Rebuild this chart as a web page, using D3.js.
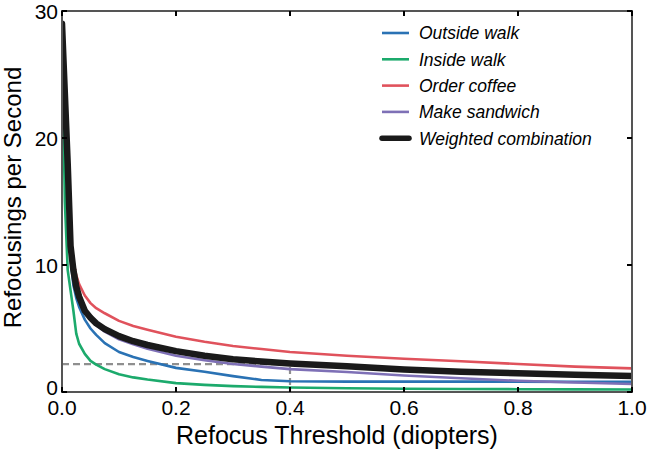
<!DOCTYPE html>
<html>
<head>
<meta charset="utf-8">
<script src="https://cdn.jsdelivr.net/npm/d3@7"></script>
<style>
  body { margin: 0; background: #fff; }
  svg { display: block; font-family: "Liberation Sans", Arial, Helvetica, sans-serif; }
</style>
</head>
<body>
<svg id="chart" width="647" height="451"></svg>
<script>
// ---- data ----
const thresholds = [0, 0.005, 0.01, 0.015, 0.02, 0.025, 0.03, 0.04, 0.05, 0.06, 0.075, 0.1, 0.125, 0.15, 0.2, 0.25, 0.3, 0.35, 0.4, 0.5, 0.6, 0.7, 0.8, 0.9, 1.0];
const outsideWalk  = [28, 22, 16, 10.5, 8.4, 7.4, 6.7, 5.7, 5.0, 4.5, 3.85, 3.15, 2.75, 2.45, 1.9, 1.6, 1.25, 0.95, 0.85, 0.82, 0.82, 0.82, 0.82, 0.8, 0.8];
const insideWalk   = [28, 15, 9.6, 8.0, 6.4, 4.6, 3.8, 3.0, 2.45, 2.15, 1.8, 1.4, 1.15, 0.98, 0.7, 0.56, 0.46, 0.4, 0.35, 0.3, 0.26, 0.24, 0.22, 0.21, 0.2];
const orderCoffee  = [29, 23.5, 18, 12, 10.3, 9.2, 8.5, 7.6, 7.0, 6.6, 6.2, 5.6, 5.2, 4.9, 4.35, 3.95, 3.62, 3.38, 3.15, 2.85, 2.62, 2.42, 2.2, 2.0, 1.86];
const makeSandwich = [29, 23.5, 18, 11.5, 9.5, 8.2, 7.4, 6.3, 5.7, 5.25, 4.75, 4.15, 3.75, 3.4, 2.85, 2.5, 2.2, 2.0, 1.8, 1.58, 1.3, 1.08, 0.88, 0.75, 0.63];
const weighted     = [29, 23.5, 18, 11.5, 9.6, 8.3, 7.5, 6.4, 5.85, 5.4, 4.95, 4.4, 4.0, 3.7, 3.22, 2.85, 2.58, 2.4, 2.25, 2.02, 1.78, 1.6, 1.47, 1.36, 1.26];
const seriesNames  = ["Outside walk", "Inside walk", "Order coffee", "Make sandwich", "Weighted combination"];
const seriesColors = ["#2a72b4", "#1caa6c", "#e0525c", "#7e70b6", "#1a1a1a"];
const xTicks = [0, 0.2, 0.4, 0.6, 0.8, 1.0];
const yTicks = [0, 10, 20, 30];
const markerX = 0.4, markerY = 2.2;

// ---- layout ----
const W = 647, H = 451;
const m = { left: 62, right: 15, top: 11, bottom: 59 };
const iw = W - m.left - m.right, ih = H - m.top - m.bottom;
const svg = d3.select("#chart");
const x = d3.scaleLinear().domain([0, 1]).range([0, iw]);
const y = d3.scaleLinear().domain([0, 30]).range([ih, 0]);
const g = svg.append("g").attr("transform", `translate(${m.left},${m.top})`);

svg.append("defs").append("clipPath").attr("id", "clip")
  .append("rect").attr("x", 0).attr("y", -4).attr("width", iw).attr("height", ih + 4);

// dashed marker
g.append("path")
  .attr("d", `M${x(0)},${y(markerY)}H${x(markerX)}V${y(0)}`)
  .attr("fill", "none").attr("stroke", "#8f8f8f").attr("stroke-width", 2.2)
  .attr("stroke-dasharray", "7,4");

// lines
const allValues = [outsideWalk, insideWalk, orderCoffee, makeSandwich, weighted];
const line = d3.line().x((d, i) => x(thresholds[i])).y(d => y(d));
const lg = g.append("g").attr("clip-path", "url(#clip)");
allValues.forEach((vals, k) => {
  lg.append("path").datum(vals)
    .attr("d", line)
    .attr("fill", "none")
    .attr("stroke", seriesColors[k])
    .attr("stroke-width", k === 4 ? 6.5 : 2.6)
    .attr("stroke-linejoin", "round")
    .attr("stroke-linecap", "round");
});

// frame
g.append("rect").attr("x", 0).attr("y", 0).attr("width", iw).attr("height", ih)
  .attr("fill", "none").attr("stroke", "#555").attr("stroke-width", 2);

// ticks (inward on all sides)
const tl = 5;
xTicks.forEach(t => {
  g.append("line").attr("x1", x(t)).attr("x2", x(t)).attr("y1", ih).attr("y2", ih - tl)
    .attr("stroke", "#000").attr("stroke-width", 2);
  g.append("line").attr("x1", x(t)).attr("x2", x(t)).attr("y1", 0).attr("y2", tl)
    .attr("stroke", "#000").attr("stroke-width", 2);
  g.append("text").attr("x", x(t)).attr("y", ih + 23)
    .attr("text-anchor", "middle").attr("font-size", 21).attr("fill", "#000")
    .text(d3.format(".1f")(t));
});
yTicks.forEach(t => {
  g.append("line").attr("x1", 0).attr("x2", tl).attr("y1", y(t)).attr("y2", y(t))
    .attr("stroke", "#000").attr("stroke-width", 2);
  g.append("line").attr("x1", iw).attr("x2", iw - tl).attr("y1", y(t)).attr("y2", y(t))
    .attr("stroke", "#000").attr("stroke-width", 2);
  g.append("text").attr("x", -4).attr("y", y(t)).attr("dy", t === 0 ? "0.15em" : "0.36em")
    .attr("text-anchor", "end").attr("font-size", 21).attr("fill", "#000")
    .text(t);
});

// axis titles
svg.append("text").attr("x", m.left + iw / 2 - 10).attr("y", 444)
  .attr("text-anchor", "middle").attr("font-size", 25).attr("fill", "#000")
  .text("Refocus Threshold (diopters)");
svg.append("text")
  .attr("transform", `translate(21,${m.top + ih / 2 - 4}) rotate(-90)`)
  .attr("text-anchor", "middle").attr("font-size", 24).attr("fill", "#000")
  .text("Refocusings per Second");

// legend
const leg = svg.append("g").attr("transform", "translate(382,33)");
seriesNames.forEach((name, k) => {
  const row = leg.append("g").attr("transform", `translate(0,${k * 26.3})`);
  row.append("line").attr("x1", 0).attr("x2", 27).attr("y1", 0).attr("y2", 0)
    .attr("stroke", seriesColors[k]).attr("stroke-width", k === 4 ? 5.5 : 2.6)
    .attr("stroke-linecap", k === 4 ? "round" : "butt");
  row.append("text").attr("x", 37).attr("y", 0).attr("dy", "0.36em")
    .attr("font-size", 17.5).attr("font-style", "italic").attr("fill", "#000")
    .text(name);
});
</script>
</body>
</html>
